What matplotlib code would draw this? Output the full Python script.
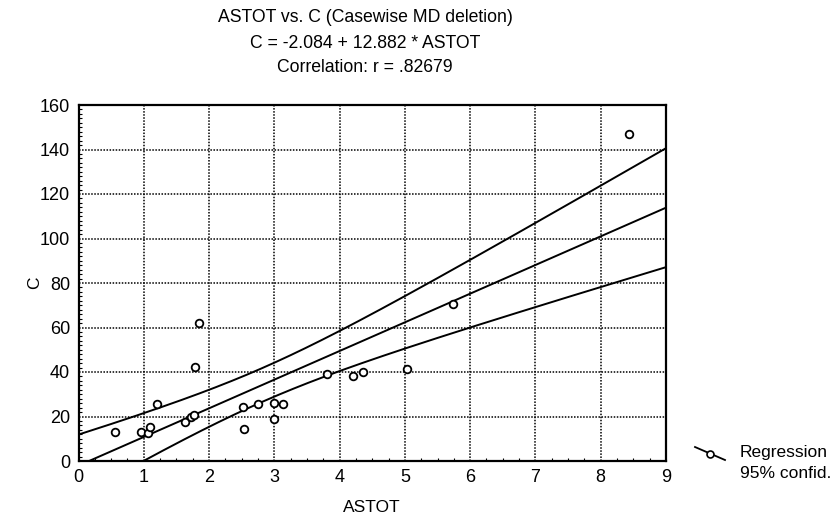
import numpy as np
import matplotlib
matplotlib.use("Agg")
import matplotlib.pyplot as plt
from matplotlib.lines import Line2D
from matplotlib.ticker import MultipleLocator

plt.rcParams['font.family'] = ['Liberation Sans', 'DejaVu Sans']

# Data
astot = [0.56, 0.96, 1.06, 1.10, 1.20, 1.63, 1.73, 1.77, 1.78, 1.84,
         2.52, 2.54, 2.75, 3.00, 3.14, 3.00, 3.81, 4.20, 4.36, 5.03,
         5.73, 8.43]
c_vals = [13.0, 13.0, 12.7, 15.4, 25.8, 17.4, 19.9, 20.7, 42.2, 61.9,
          24.3, 14.2, 25.5, 25.9, 25.5, 18.9, 39.0, 38.3, 40.0, 41.2,
          70.5, 146.8]
intercept = -2.084
slope = 12.882
title_lines = ["ASTOT vs. C (Casewise MD deletion)",
               "C = -2.084 + 12.882 * ASTOT",
               "Correlation: r = .82679"]
x_ticks = list(range(0, 10))
y_ticks = list(range(0, 161, 20))

x = np.array(astot)
y = np.array(c_vals)
n = len(x)
resid = y - (intercept + slope * x)
s = np.sqrt(np.sum(resid ** 2) / (n - 2))
t_val = 2.086
xm = x.mean()
sxx = np.sum((x - xm) ** 2)
xs = np.linspace(0, 9, 400)
yfit = intercept + slope * xs
half = t_val * s * np.sqrt(1.0 / n + (xs - xm) ** 2 / sxx)

W, H = 831, 517
fig = plt.figure(figsize=(W / 100, H / 100), dpi=100)
ax = fig.add_axes([78.5 / W, 1 - 461 / H, (666 - 78.5) / W, (461 - 105) / H])

ax.plot(xs, yfit, color='black', lw=1.4)
ax.plot(xs, yfit + half, color='black', lw=1.4)
ax.plot(xs, yfit - half, color='black', lw=1.4)
ax.plot(x, y, linestyle='none', marker='o', markersize=5.5,
        markerfacecolor='white', markeredgecolor='black', markeredgewidth=1.3,
        zorder=5)

ax.set_xlim(0, 9)
ax.set_ylim(0, 160)
ax.set_xticks(x_ticks)
ax.set_yticks(y_ticks)
ax.xaxis.set_minor_locator(MultipleLocator(0.25))
ax.yaxis.set_minor_locator(MultipleLocator(2))
ax.tick_params(which='major', direction='in', length=0, labelsize=13, pad=6)
ax.tick_params(which='minor', direction='in', length=2.5, width=0.8)
ax.grid(True, which='major', linestyle=(0, (1, 1)), color='black', linewidth=1.1)
for sp in ax.spines.values():
    sp.set_linewidth(1.6)

ax.set_xlabel("ASTOT", fontsize=12.5)
ax.set_ylabel("C", fontsize=12.5)
ax.xaxis.set_label_coords(0.5, (461 - 508) / 356, transform=ax.transAxes)
ax.yaxis.set_label_coords((35 - 78.5) / 587.5, 0.5, transform=ax.transAxes)
ax.xaxis.label.set_va('center')
ax.yaxis.label.set_va('center')

for i, t in enumerate(title_lines):
    fig.text(365 / W, 1 - (18 + 25 * i) / H, t, ha='center', va='center', fontsize=12.7)

# Legend (outside right)
lx = np.array([695, 725]) / W
ly = 1 - np.array([447, 460]) / H
fig.add_artist(Line2D(lx, ly, color='black', lw=1.3))
fig.add_artist(Line2D([710 / W], [1 - 453.5 / H], marker='o', markersize=5,
                      markerfacecolor='white', markeredgecolor='black',
                      markeredgewidth=1.2, linestyle='none'))
fig.text(740 / W, 1 - 452 / H, "Regression", ha='left', va='center', fontsize=12.5)
fig.text(740 / W, 1 - 473 / H, "95% confid.", ha='left', va='center', fontsize=12.5)

fig.savefig("out.png", dpi=100)
